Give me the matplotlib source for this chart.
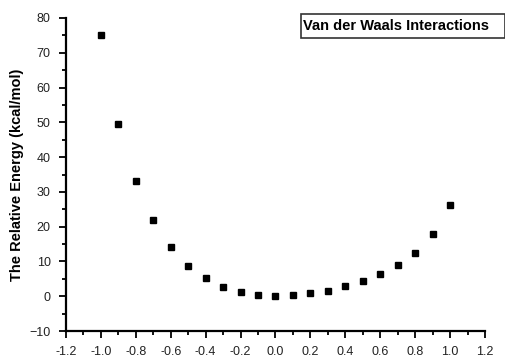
import matplotlib.pyplot as plt
from matplotlib.patches import Rectangle
from matplotlib.ticker import MultipleLocator

plt.rcParams['font.family'] = ['Liberation Sans', 'DejaVu Sans']

x = [-1.0, -0.9, -0.8, -0.7, -0.6, -0.5, -0.4, -0.3, -0.2, -0.1, 0.0,
     0.1, 0.2, 0.3, 0.4, 0.5, 0.6, 0.7, 0.8, 0.9, 1.0]
energy = [75.2, 49.6, 33.0, 21.9, 14.1, 8.8, 5.1, 2.6, 1.2, 0.4, 0.1,
          0.3, 0.9, 1.6, 2.9, 4.4, 6.3, 8.9, 12.5, 17.8, 26.2]

fig = plt.figure(figsize=(5.06, 3.58), dpi=100)
ax = fig.add_axes([66/506, 27/358, 419/506, 313/358])

ax.plot(x, energy, 'ks', markersize=4.3, linestyle='none')

ax.set_xlim(-1.2, 1.2)
ax.set_ylim(-10, 80)
ax.xaxis.set_major_locator(MultipleLocator(0.2))
ax.xaxis.set_minor_locator(MultipleLocator(0.1))
ax.yaxis.set_major_locator(MultipleLocator(10))
ax.yaxis.set_minor_locator(MultipleLocator(5))
ax.set_xticklabels([f"{v:.1f}" for v in ax.get_xticks()])

ax.spines['top'].set_visible(False)
ax.spines['right'].set_visible(False)
ax.spines['left'].set_linewidth(1.6)
ax.spines['bottom'].set_linewidth(1.6)
ax.tick_params(which='major', direction='out', length=5, width=1.3,
               labelsize=9, colors='black', labelcolor='#222222')
ax.tick_params(which='minor', direction='out', length=3, width=1.3)
ax.tick_params(axis='x', pad=6)
ax.tick_params(axis='y', pad=6)

ax.set_ylabel("The Relative Energy (kcal/mol)", fontsize=10.5,
              fontweight='bold', labelpad=4)

# title box in the upper right
fig.patches.append(Rectangle((301/506, 1 - 38/358), 204/506, 24/358,
                             transform=fig.transFigure, fill=False,
                             edgecolor='#333333', linewidth=1.2))
fig.text(303/506, 1 - 26/358, "Van der Waals Interactions", fontsize=10.5,
         fontweight='bold', va='center', ha='left')

fig.savefig("out.png", dpi=100)
